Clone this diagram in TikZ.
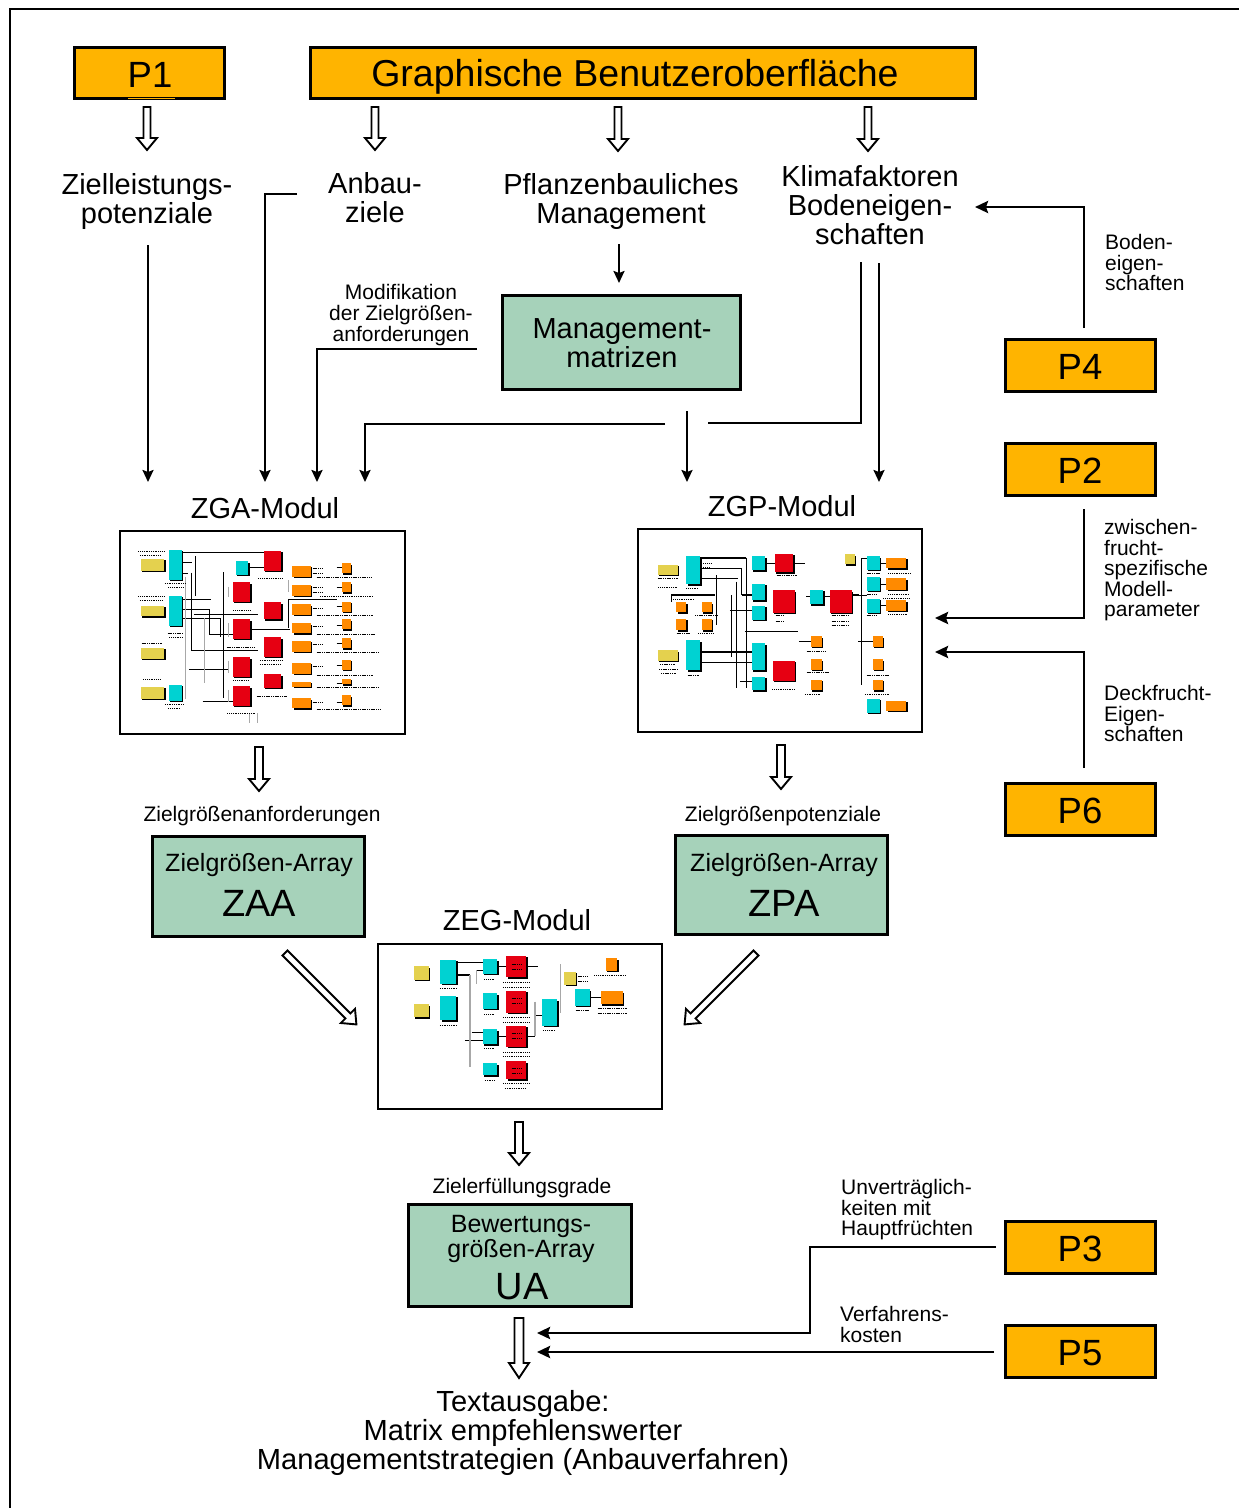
\documentclass[tikz,border=0pt]{standalone}
\usepackage{fontspec}
\setmainfont{Liberation Sans}
\usetikzlibrary{arrows.meta}
\definecolor{boxorange}{HTML}{FFB400}
\definecolor{boxgreen}{HTML}{A6D2BA}
\definecolor{tyellow}{HTML}{E4D14E}
\definecolor{tcyan}{HTML}{00D2D2}
\definecolor{tred}{HTML}{E60012}
\definecolor{torange}{HTML}{FF8A00}
\definecolor{tgrey}{HTML}{A8A8A8}
\tikzset{
  x=1pt,y=-1pt,
  sizeA/.style={font=\fontsize{36.5}{36.5}\selectfont},
  sizeG/.style={font=\fontsize{37.5}{37.5}\selectfont},
  sizeB/.style={font=\fontsize{29}{29}\selectfont},
  sizeC/.style={font=\fontsize{25}{25}\selectfont},
  sizeD/.style={font=\fontsize{21}{20.6}\selectfont},
  orangebox/.style={draw=black,line width=2.6pt,fill=boxorange,inner sep=0pt,outer sep=0pt,anchor=north west},
  greenbox/.style={draw=black,line width=2.6pt,fill=boxgreen,inner sep=0pt,outer sep=0pt,anchor=north west},
  frame/.style={draw=black,line width=2pt,fill=white,inner sep=0pt,outer sep=0pt,anchor=north west},
  lab/.style={inner sep=0pt,align=center},
  sidelab/.style={inner sep=0pt,align=left,anchor=north west,sizeD},
  conn/.style={draw=black,line width=2.2pt,-{Stealth[length=12pt,width=11pt,inset=2pt]}},
  heavyconn/.style={draw=black,line width=2.9pt,-{Stealth[length=13pt,width=12pt,inset=2pt]}},
  plainconn/.style={draw=black,line width=2.2pt},
  hollow/.style={draw=black,line width=1.9pt,fill=white,line join=miter},
  tline/.style={draw=black,line width=.9pt},
  tthick/.style={draw=black,line width=1.7pt},
  tg/.style={draw=tgrey,line width=1.2pt},
  scrib/.style={draw=black,line width=.55pt,dash pattern=on 1.1pt off .7pt},
}
% shadowed block of the small screen shots: colour, x1,y1,x2,y2
\newcommand\tb[5]{\fill[black] (#2+4,#3+4) rectangle (#4+4,#5+4);\fill[#1] (#2,#3) rectangle (#4,#5);}
% hollow block arrow: tail x,y, angle, length, half shaft, half head, head length
\newcommand\harr[7]{\draw[hollow,shift={(#1,#2)},rotate=#3] (-#5,0) -- (-#5,#4-#7) -- (-#6,#4-#7) -- (0,#4) -- (#6,#4-#7) -- (#5,#4-#7) -- (#5,0) -- cycle;}
\begin{document}
\begin{tikzpicture}
\useasboundingbox (0,0) rectangle (1239,1508);
\fill[white] (0,0) rectangle (1239,1508);
\draw[line width=2pt] (10,1508) -- (10,9) -- (1239,9);

% orange boxes
\node[orangebox,minimum width=150pt,minimum height=51pt] (p1) at (74.5,47.5) {};
\node[sizeA,inner sep=0pt] at (150,75) {P1};
\fill[boxorange] (128,98) rectangle (175,99.3);
\node[orangebox,minimum width=665pt,minimum height=51pt] (gui) at (310.5,47.5) {};
\node[sizeG,inner sep=0pt] at (635,77) {Graphische Benutzeroberfläche};
\node[orangebox,minimum width=150pt,minimum height=52pt] (p4) at (1005.5,339.5) {};
\node[sizeA,inner sep=0pt] at (1080,367) {P4};
\node[orangebox,minimum width=150pt,minimum height=52pt] (p2) at (1005.5,443.5) {};
\node[sizeA,inner sep=0pt] at (1080,471) {P2};
\node[orangebox,minimum width=150pt,minimum height=52pt] (p6) at (1005.5,783.5) {};
\node[sizeA,inner sep=0pt] at (1080,811) {P6};
\node[orangebox,minimum width=150pt,minimum height=52pt] (p3) at (1005.5,1221.5) {};
\node[sizeA,inner sep=0pt] at (1080,1249) {P3};
\node[orangebox,minimum width=150pt,minimum height=52pt] (p5) at (1005.5,1325.5) {};
\node[sizeA,inner sep=0pt] at (1080,1353) {P5};

% green boxes
\node[greenbox,minimum width=238pt,minimum height=94pt] (mm) at (502.5,295.5) {};
\node[lab,sizeB] (mmt) at (622,343) {Management-\\matrizen};
\node[greenbox,minimum width=212pt,minimum height=100pt] (zaa) at (152.5,836.5) {};
\node[lab,sizeC] at (259,865) {Zielgrößen-Array};
\node[lab,font=\fontsize{38}{38}\selectfont] at (259,903) {ZAA};
\node[greenbox,minimum width=212pt,minimum height=99pt] (zpa) at (675.5,835.5) {};
\node[lab,sizeC] at (784,865) {Zielgrößen-Array};
\node[lab,font=\fontsize{38}{38}\selectfont] at (784,903) {ZPA};
\node[greenbox,minimum width=223pt,minimum height=102pt] (ua) at (408.5,1204.5) {};
\node[lab,sizeC] at (521,1239) {Bewertungs-\\größen-Array};
\node[lab,font=\fontsize{38}{38}\selectfont] at (522,1287) {UA};

% text
\node[lab,sizeB] (zlp) at (147,201) {Zielleistungs-\\potenziale};
\node[lab,sizeB] (anb) at (375,198) {Anbau-\\ziele};
\node[lab,sizeB] (pfl) at (621,201) {Pflanzenbauliches\\Management};
\node[lab,sizeB] (kli) at (870,205) {Klimafaktoren\\Bodeneigen-\\schaften};
\node[lab,sizeD] (mod) at (401,315) {Modifikation\\der Zielgrößen-\\anforderungen};
\node[lab,sizeB] (zga) at (265,508) {ZGA-Modul};
\node[lab,sizeB] (zgp) at (782,506) {ZGP-Modul};
\node[lab,sizeB] (zeg) at (517,920) {ZEG-Modul};
\node[lab,sizeD] (zan) at (262,816) {Zielgrößenanforderungen};
\node[lab,sizeD] (zpo) at (783,816) {Zielgrößenpotenziale};
\node[lab,sizeD] (zer) at (522,1188) {Zielerfüllungsgrade};
\node[lab,font=\fontsize{29.1}{29}\selectfont] (txt) at (523,1433) {Textausgabe:\\Matrix empfehlenswerter\\Managementstrategien (Anbauverfahren)};
\node[sidelab] (l4) at (1105,234) {Boden-\\eigen-\\schaften};
\node[sidelab] (l2) at (1104,519) {zwischen-\\frucht-\\spezifische\\Modell-\\parameter};
\node[sidelab] (l6) at (1104,685) {Deckfrucht-\\Eigen-\\schaften};
\node[sidelab] (l3) at (841,1179) {Unverträglich-\\keiten mit\\Hauptfrüchten};
\node[sidelab] (l5) at (840,1306) {Verfahrens-\\kosten};

% frames
\node[frame,minimum width=285pt,minimum height=203pt] (fga) at (120,531) {};
\node[frame,minimum width=284pt,minimum height=203pt] (fgp) at (638,529) {};
\node[frame,minimum width=284pt,minimum height=165pt] (feg) at (378,944) {};

% connector ends
\coordinate (a1) at (148,245);  \coordinate (a2) at (148,482);
\coordinate (b1) at (297,194);  \coordinate (b2) at (265,482);
\coordinate (c1) at (477,349);  \coordinate (c2) at (317,482);
\coordinate (d1) at (665,424);  \coordinate (d2) at (365,482);
\coordinate (e1) at (687,411);  \coordinate (e2) at (687,482);
\coordinate (f1) at (708,423);  \coordinate (f2) at (861,262);
\coordinate (g1) at (879,263);  \coordinate (g2) at (879,482);
\coordinate (h1) at (619,244);  \coordinate (h2) at (619,283);
\coordinate (i1) at (1084,328); \coordinate (i2) at (975,207);
\coordinate (j1) at (1084,509); \coordinate (j2) at (935,618);
\coordinate (k1) at (1084,768); \coordinate (k2) at (935,652);
\coordinate (m1) at (996,1247); \coordinate (m2) at (810,1247); \coordinate (m3) at (537,1333);
\coordinate (n1) at (994,1352); \coordinate (n2) at (537,1352);

\draw[conn] (a1) -- (a2);
\draw[conn] (b1) -| (b2);
\draw[conn] (c1) -| (c2);
\draw[conn] (d1) -| (d2);
\draw[conn] (e1) -- (e2);
\draw[plainconn] (f1) -| (f2);
\draw[conn] (g1) -- (g2);
\draw[conn] (h1) -- (h2);
\draw[heavyconn] (i1) |- (i2);
\draw[heavyconn] (j1) |- (j2);
\draw[heavyconn] (k1) |- (k2);
\draw[heavyconn] (m1) -- (m2) |- (m3);
\draw[heavyconn] (n1) -- (n2);

% hollow arrows
\harr{147}{107}{0}{43}{3.5}{10}{12}
\harr{375}{107}{0}{43}{3.5}{10}{12}
\harr{618}{107}{0}{44}{3.5}{10}{12}
\harr{868}{107}{0}{44}{3.5}{10}{12}
\harr{259}{747}{0}{44}{4}{10}{12}
\harr{781}{745}{0}{44}{4}{10}{12}
\harr{519}{1122}{0}{43}{4}{10}{12}
\harr{519}{1318}{0}{60}{4.5}{10}{15}
\harr{285}{953}{45}{101}{3.5}{10}{12}
\harr{756}{953}{-45}{101}{3.5}{10}{12}

% ---- ZGA screenshot
\begin{scope}[shift={(120,530)},x=.3333pt,y=-.3333pt]
\foreach \a/\b/\c/\d in {188/67/432/67,188/97/216/97,226/78/226/197,188/130/205/130,188/208/273/208,222/253/413/253,207/418/325/418,248/514/339/514,310/127/310/505,391/298/510/298,506/208/650/208,506/208/506/295,388/112/432/112,302/265/302/322,188/265/302/265}
  {\draw[tline] (\a,\b) -- (\c,\d);}
\draw[tline] (188,238) -- (268,238) -- (268,314) -- (339,314);
\draw[tline] (213,128) -- (213,360) -- (415,360);
\foreach \a/\b/\c/\d in {197/140/197/508,254/265/254/460,506/150/506/185,388/550/388/578,412/550/412/578,325/170/325/200,325/280/325/320,325/392/325/430,325/480/325/515}
  {\draw[tg] (\a,\b) -- (\c,\d);}
\foreach \y in {112,172,230,285,340,405,460,518}{\draw[tline] (650,\y) -- (666,\y);}
\foreach \a/\b/\c/\d in {63/87/133/123,63/227/133/259,63/354/133/387,63/471/133/507}{\tb{tyellow}{\a}{\b}{\c}{\d}}
\foreach \a/\b/\c/\d in {147/60/185/150,147/198/185/288,147/465/185/512,348/94/385/135}{\tb{tcyan}{\a}{\b}{\c}{\d}}
\foreach \a/\b/\c/\d in {432/63/484/122,339/157/391/216,432/217/484/268,339/268/391/327,432/322/484/380,339/382/391/440,432/433/484/474,339/469/391/527}{\tb{tred}{\a}{\b}{\c}{\d}}
\foreach \a/\b/\c/\d in {517/108/572/141,517/165/572/198,517/223/572/255,517/280/572/310,517/333/572/365,517/399/572/432,517/456/572/471,517/505/572/535,666/100/693/130,666/157/693/187,666/215/693/245,666/268/693/298,666/325/693/355,666/390/693/420,666/447/693/463,666/496/693/526}{\tb{torange}{\a}{\b}{\c}{\d}}
\foreach \a/\b/\c in {55/135/65,60/120/77,55/135/200,60/130/212,65/125/340,70/120/448,135/195/160,145/190/172,143/190/310,148/188/322,135/190/522,145/180/535,340/390/240,320/405/352,340/385/452,322/405/550,415/490/145,420/490/390,420/480/402,410/500/498,590/755/143,600/760/200,590/760/255,590/765/312,590/775/368,590/760/435,590/775/472,590/780/537,578/610/115,578/610/130,578/610/172,578/610/186,578/610/235,578/610/290,578/610/342,578/610/410,578/610/517}
  {\draw[scrib] (\a,\c) -- (\b,\c);}
\end{scope}

% ---- ZGP screenshot
\begin{scope}[shift={(635,525)},x=.3333pt,y=-.3333pt]
\draw[tthick] (196,98) -- (334,98);
\draw[tline] (334,98) -- (334,490);
\draw[tline] (196,130) -- (320,130) -- (320,210);
\draw[tthick] (320,210) -- (350,210);
\draw[tthick] (108,210) -- (240,210);
\draw[tline] (108,210) -- (108,232);
\draw[tthick] (196,380) -- (350,380);
\draw[tthick] (650,210) -- (672,210);
\foreach \a/\b/\c/\d in {196/160/308/160,245/150/245/300,304/170/304/488,290/210/290/395,285/256/350/256,196/412/350/412,315/468/350/468,330/319/488/319,391/115/420/115,475/115/510/115,492/349/528/349,670/349/714/349,672/210/695/210,680/100/680/480,680/100/695/100,735/115/754/115,735/177/754/177,735/240/754/240,565/215/585/215,514/215/525/215}
  {\draw[tline] (\a,\b) -- (\c,\d);}
\foreach \a/\b/\c/\d in {69/120/129/150,69/376/129/408,630/88/660/118}{\tb{tyellow}{\a}{\b}{\c}{\d}}
\foreach \a/\b/\c/\d in {154/92/196/178,154/346/196/436,350/94/391/136,350/176/391/226,350/242/391/284,350/355/391/436,350/455/391/496,525/194/565/238,695/94/735/135,695/156/735/198,695/222/735/264,695/522/735/563}{\tb{tcyan}{\a}{\b}{\c}{\d}}
\foreach \a/\b/\c/\d in {420/87/475/142,414/196/480/264,414/408/480/468,585/196/650/264}{\tb{tred}{\a}{\b}{\c}{\d}}
\foreach \a/\b/\c/\d in {124/232/154/262,200/232/230/262,124/282/154/316,200/282/230/316,528/334/560/365,528/403/560/434,528/465/560/496,714/334/744/365,714/403/744/434,714/465/744/496,754/98/814/130,754/160/814/194,754/226/814/258,754/528/814/558}{\tb{torange}{\a}{\b}{\c}{\d}}
\foreach \a/\b/\c in {68/130/160,70/125/186,75/120/418,72/128/432,78/122/446,154/190/190,158/192/450,115/175/222,180/250/272,125/165/326,190/235/326,515/570/378,515/580/443,510/555/508,695/765/450,690/765/508,425/485/152,422/445/272,422/445/290,412/480/492,590/640/272,590/640/288,590/640/302,695/735/145,695/725/208,695/725/272,760/830/145,760/820/208,745/825/220,760/815/268,205/235/96,205/230/115,205/225/128}
  {\draw[scrib] (\a,\c) -- (\b,\c);}
\end{scope}

% ---- ZEG screenshot
\begin{scope}[shift={(375,940)},x=.3333pt,y=-.3333pt]
\foreach \a/\b/\c/\d in {244/67/324/67,290/276/324/276,270/300/324/300,367/78/394/78,454/78/488/78,454/289/480/289,480/225/502/225,305/90/324/90,367/289/394/289,645/172/677/172}
  {\draw[tline] (\a,\b) -- (\c,\d);}
\draw[tthick] (244,104) -- (285,104);
\foreach \a/\b/\c/\d in {285/104/285/380,305/90/305/133,480/185/480/289,557/72/557/220}
  {\draw[tg] (\a,\b) -- (\c,\d);}
\foreach \a/\b/\c/\d in {116/79/162/120,116/193/162/232,568/96/602/135}{\tb{tyellow}{\a}{\b}{\c}{\d}}
\foreach \a/\b/\c/\d in {196/60/244/132,196/168/244/241,324/58/367/101,324/160/367/207,324/268/367/313,324/370/367/406,502/178/547/258,600/148/645/197}{\tb{tcyan}{\a}{\b}{\c}{\d}}
\foreach \a/\b/\c/\d in {394/48/454/112,394/153/454/219,394/258/454/320,394/364/454/418}{\tb{tred}{\a}{\b}{\c}{\d}}
\foreach \a/\b/\c/\d in {693/55/727/92,677/154/743/193}{\tb{torange}{\a}{\b}{\c}{\d}}
\foreach \a/\b/\c in {195/245/146,195/245/255,328/358/118,328/358/222,328/358/326,330/358/422,385/465/128,385/465/142,385/465/232,385/465/246,385/465/336,385/465/350,385/465/430,390/450/444,505/542/271,602/640/211,658/755/106,668/755/206,668/755/220,608/636/108,608/636/124,410/440/72,410/440/175,410/440/280,410/440/385,410/440/88,410/440/190,410/440/295,410/440/400}
  {\draw[scrib] (\a,\c) -- (\b,\c);}
\end{scope}
\end{tikzpicture}
\end{document}
